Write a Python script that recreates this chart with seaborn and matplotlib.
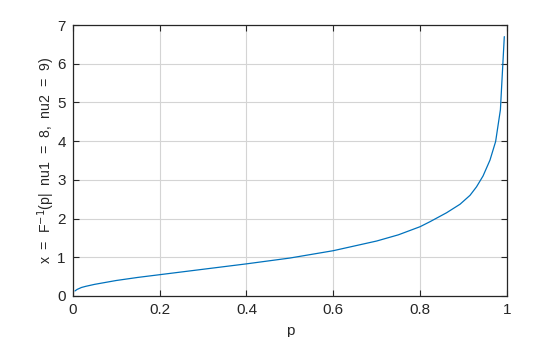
import matplotlib
matplotlib.use("Agg")
import matplotlib.pyplot as plt
import seaborn as sns
import pandas as pd

# values
p_values = [0.005, 0.01, 0.02, 0.03, 0.05, 0.075, 0.1, 0.15, 0.2, 0.3, 0.4, 0.5,
            0.6, 0.7, 0.75, 0.8, 0.823, 0.861, 0.892, 0.915, 0.93, 0.945, 0.961,
            0.974, 0.985, 0.994]
x_values = [0.13, 0.17, 0.22, 0.25, 0.30, 0.35, 0.40, 0.48, 0.55, 0.69, 0.83, 0.98,
            1.17, 1.42, 1.58, 1.79, 1.92, 2.15, 2.37, 2.60, 2.82, 3.10, 3.51,
            3.99, 4.81, 6.70]
x_ticks = [0, 0.2, 0.4, 0.6, 0.8, 1]
x_ticklabels = ["0", "0.2", "0.4", "0.6", "0.8", "1"]
y_ticks = [0, 1, 2, 3, 4, 5, 6, 7]

df = pd.DataFrame({"p": p_values, "x": x_values})

sns.set_theme(style="white")
plt.rcParams["font.family"] = ["Liberation Sans", "DejaVu Sans"]

fig = plt.figure(figsize=(5.6, 3.37), dpi=100)
ax = fig.add_axes([0.13, 0.1217, 0.7752, 0.8041])

sns.lineplot(data=df, x="p", y="x", ax=ax, color="#0072BD", linewidth=0.9)

ax.set_xlim(0, 1)
ax.set_ylim(0, 7)
ax.set_xticks(x_ticks)
ax.set_xticklabels(x_ticklabels)
ax.set_yticks(y_ticks)
ax.grid(True, color="#d4d4d4", linewidth=0.8)
ax.set_axisbelow(True)
for s in ax.spines.values():
    s.set_color("#262626")
    s.set_linewidth(0.9)
    s.set_visible(True)
ax.tick_params(direction="in", length=4, width=0.8, colors="#262626",
               labelsize=11, top=True, right=True, bottom=True, left=True,
               labelcolor="#262626", pad=5)
ax.set_xlabel("p", fontsize=11, color="#262626", labelpad=5)
ax.set_ylabel("x  =  F$^{-1}$(p|  nu1  =  8,  nu2  =  9)", fontsize=10.2,
              color="#262626", labelpad=0)

fig.savefig("out.png", dpi=100)
